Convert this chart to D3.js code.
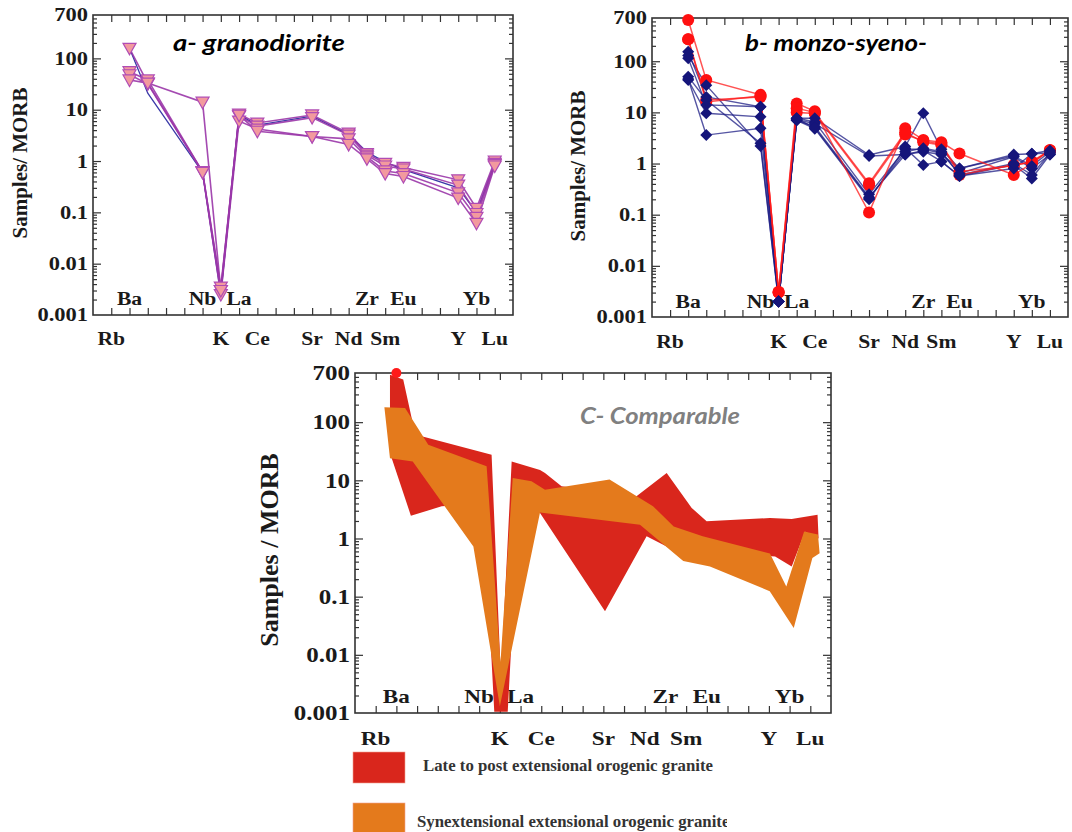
<!DOCTYPE html>
<html>
<head>
<meta charset="utf-8">
<script src="https://cdn.jsdelivr.net/npm/d3@7"></script>
<style>
body{margin:0;background:#fff;}
svg{display:block;}
.serif{font-family:"Liberation Serif","Times New Roman",serif;font-weight:bold;fill:#1a1a1a;}
.title{font-family:Lato,"Open Sans",sans-serif;font-style:italic;font-weight:bold;}
</style>
</head>
<body>
<div id="chart"></div>
<script>
// x axis: element labels and where they sit (tick index 0..23)
const elements = ["Rb","Ba","Nb","K","La","Ce","Sr","Nd","Zr","Sm","Eu","Y","Yb","Lu"];
const labelPos = [1,2,6,7,8,9,12,14,15,16,17,20,21,22];
const labelRow = [1,0,0,1,0,1,1,1,0,1,0,1,0,1];   // 0 = inside plot, 1 = under axis
const dataPos  = [2,3,6,7,8,9,12,14,15,16,17,20,21,22]; // columns of the sample points

// y axis (log, samples / MORB)
const yTickValues = [700,100,10,1,0.1,0.01,0.001];
const yTickLabels = ["700","100","10","1","0.1","0.01","0.001"];

// a- granodiorite (triangles)
const granA1 = [157,33,0.62,0.003,8.2,5.5,7.9,3.5,1.4,0.9,0.75,0.43,0.12,1.0];
const granA2 = [55,38,0.62,0.0035,7.5,4.8,7.0,3.2,1.3,0.8,0.7,0.34,0.095,0.9];
const granA3 = [48,32,0.6,0.0025,6.0,4.2,3.0,2.7,1.2,0.64,0.57,0.24,0.08,0.85];
const granA4 = [38,33,14,0.003,7.8,3.8,3.0,2.1,1.1,0.57,0.5,0.19,0.061,0.8];
const granBlue = [157,21,0.6,0.0025,8,5,7.5,3.3,1.5,0.95,0.68,0.3,0.1,0.9];

// b- monzo-syeno (red circles, navy diamonds)
const monzoRed1 = [640,43,22,0.0031,15,10.5,0.11,4.9,2.9,2.6,1.57,0.6,1.0,1.84];
const monzoRed2 = [268,17.5,20,0.003,12,10,0.41,4.1,2.6,2.3,0.7,0.9,1.1,1.8];
const monzoRed3 = [268,16,21,0.003,10,9.5,0.38,3.7,2.8,2.4,0.6,0.95,1.05,1.8];
const monzoNavy1 = [153,20,12.9,0.002,7.7,7.7,1.47,2.15,9.6,1.9,0.8,1.5,1.55,1.8];
const monzoNavy2 = [114,14,12.9,0.002,7.7,6.5,0.25,1.9,1.9,1.6,0.64,1.35,0.8,1.5];
const monzoNavy3 = [130,34,2.2,0.002,7,5.3,0.22,1.5,1.8,1.1,0.57,0.94,0.51,1.5];
const monzoNavy4 = [50,17.5,2.5,0.002,7,4.8,0.2,2.0,0.94,1.09,0.57,0.8,1.55,1.6];
const monzoNavy5 = [43,9.6,8.2,0.002,7.2,6,1.4,1.5,1.7,1.5,0.8,1.4,0.9,1.7];
const monzoNavy6 = [45,3.6,4.9,0.002,7.5,5,0.21,1.7,2.0,1.7,0.6,1.0,0.6,1.6];

// C- comparable fields: outline vertices (tick index, value)
const lateX = [1.69,2.33,2.79,3.22,6.6,7.05,7.57,8.94,9.18,9.98,13.6,15.06,16.27,16.99,20.05,21.1,22.35,22.4,21.75,21.1,20.3,17.15,15.06,14.09,12.08,8.94,7.9,7.38,6.73,6.2,4.19,2.7,1.69];
const lateY = [650,540,97,57,27.6,0.004,21,15,13.4,7.9,5.3,13.4,3.35,1.97,2.25,2.16,2.57,1.0,1.3,0.33,0.49,0.6,0.73,1.09,0.056,2.75,3,0.00105,0.00105,4,3.57,2.47,29.5];
const synX = [1.42,2.42,3.14,3.54,6.36,7.03,7.62,8.53,9.18,12.3,14.4,15.4,16.8,20.05,20.84,21.7,22.37,22.45,22.1,21.2,20.04,17.15,15.86,13.77,8.94,7.0,5.72,2.79,1.69];
const synY = [180,175,69,41,17.4,0.0075,11,9.6,6.9,10.3,3.6,1.6,1.09,0.55,0.15,1.32,1.17,0.56,0.46,0.029,0.124,0.33,0.41,1.73,2.8,0.0013,0.73,21,24];
const lateDotX = [2];
const lateDotY = [700];

const legendNames = ["Late to post extensional orogenic granite","Synextensional extensional orogenic granite"];
const legendColors = ["#d9261c","#e47a1c"];

const svg = d3.select("#chart").append("svg").attr("width",1072).attr("height",832);

//draws box, ticks and labels of one panel, returns its scales
function panel(p){
  const x = d3.scaleLinear().domain([0,23]).range([p.x0,p.x1]);
  const y = d3.scaleLog().domain([0.001,700]).range([p.y1,p.y0]);
  const g = svg.append("g");
  const minor = [];
  for(let e=-3;e<=2;e++) for(let m=2;m<=9;m++){ const v=m*Math.pow(10,e); if(v<700) minor.push(v); }
  const major = yTickValues.filter(v=>v<700 && v>0.001);
  const tidy = s=>{ s.select(".domain").remove(); s.selectAll("line").attr("stroke","#333").attr("stroke-width",1.2); };

  g.append("g").attr("transform","translate("+p.x0+",0)").call(d3.axisRight(y).tickValues(minor).tickSize(4).tickFormat("")).call(tidy);
  g.append("g").attr("transform","translate("+p.x0+",0)").call(d3.axisRight(y).tickValues(major).tickSize(8).tickFormat("")).call(tidy);
  g.append("g").attr("transform","translate("+p.x1+",0)").call(d3.axisLeft(y).tickValues(minor).tickSize(4).tickFormat("")).call(tidy);
  g.append("g").attr("transform","translate("+p.x1+",0)").call(d3.axisLeft(y).tickValues(major).tickSize(8).tickFormat("")).call(tidy);
  g.append("g").attr("transform","translate(0,"+p.y0+")").call(d3.axisBottom(x).tickValues(d3.range(1,23)).tickSize(7).tickFormat("")).call(tidy);
  g.append("g").attr("transform","translate(0,"+p.y1+")").call(d3.axisTop(x).tickValues(d3.range(1,23)).tickSize(7).tickFormat("")).call(tidy);

  g.append("rect").attr("x",p.x0).attr("y",p.y0).attr("width",p.x1-p.x0).attr("height",p.y1-p.y0)
    .attr("fill","none").attr("stroke","#333").attr("stroke-width",1.6);

  //y tick labels
  g.selectAll(".ytl").data(yTickValues).enter().append("text")
    .attr("class","serif stretch").attr("data-k",p.tickK)
    .attr("x",p.x0-5).attr("y",d=>y(d)).attr("dy","0.36em")
    .attr("text-anchor","end").style("font-size",p.tickFont+"px")
    .text((d,i)=>yTickLabels[i]);

  //element labels, two rows
  g.selectAll(".xtl").data(elements).enter().append("text")
    .attr("class","serif stretch").attr("data-k",p.labK)
    .attr("x",(d,i)=>x(labelPos[i]))
    .attr("y",(d,i)=>labelRow[i]===0 ? p.y1-p.upOff : p.y1+p.lowOff)
    .attr("text-anchor","middle").style("font-size",p.labFont+"px")
    .text(d=>d);

  //axis title
  g.append("text").attr("class","serif")
    .attr("transform","translate("+p.axX+","+p.axY+") rotate(-90)")
    .attr("text-anchor","middle").style("font-size",p.axFont+"px")
    .text(p.axText);

  //panel title
  g.append("text").attr("class","title").attr("x",p.tX).attr("y",p.tY)
    .attr("textLength",p.tW).attr("lengthAdjust","spacingAndGlyphs")
    .style("font-size",p.tFont+"px").attr("fill",p.tColor).text(p.title);
  return {x,y,g};
}

//---------- a- granodiorite ----------
const pa = panel({x0:93,x1:513,y0:15,y1:315,tickFont:18,tickK:1.25,labFont:18,labK:1.2,upOff:10,lowOff:30,
  axX:27,axY:163,axFont:21,axText:"Samples/ MORB",tX:173,tY:51,tW:172,tFont:23,tColor:"#000",title:"a-  granodiorite"});
const lineA = d3.line().x((d,i)=>pa.x(dataPos[i])).y(d=>pa.y(d));
pa.g.append("path").datum(granBlue).attr("d",lineA).attr("fill","none").attr("stroke","#3a3aa8").attr("stroke-width",1.3);
const granSet = [granA1,granA2,granA3,granA4];
pa.g.selectAll(".ga").data(granSet).enter().append("path").attr("d",lineA)
  .attr("fill","none").attr("stroke","#9a36a8").attr("stroke-width",1.6).attr("opacity",0.9);
granSet.forEach(s=>{
  pa.g.selectAll(null).data(s).enter().append("path")
    .attr("transform",(d,i)=>"translate("+pa.x(dataPos[i])+","+pa.y(d)+")")
    .attr("d","M-6.5,-5L6.5,-5L0,6.5Z")
    .attr("fill","#f29a9e").attr("stroke","#b04cb4").attr("stroke-width",1.2);
});

//---------- b- monzo-syeno ----------
const pb = panel({x0:652,x1:1068,y0:18,y1:317,tickFont:18,tickK:1.25,labFont:18,labK:1.2,upOff:9,lowOff:31,
  axX:585,axY:166,axFont:21,axText:"Samples/ MORB",tX:745,tY:51,tW:182,tFont:23,tColor:"#000",title:"b- monzo-syeno-"});
const lineB = d3.line().x((d,i)=>pb.x(dataPos[i])).y(d=>pb.y(d));
const navySet = [monzoNavy1,monzoNavy2,monzoNavy3,monzoNavy4,monzoNavy5,monzoNavy6];
const redSet = [monzoRed1,monzoRed2,monzoRed3];
pb.g.selectAll(".nl").data(navySet).enter().append("path").attr("d",lineB)
  .attr("fill","none").attr("stroke","#1c1c84").attr("stroke-width",1.4).attr("opacity",0.75);
pb.g.selectAll(".rl").data(redSet).enter().append("path").attr("d",lineB)
  .attr("fill","none").attr("stroke","#ff1a1a").attr("stroke-width",1.5).attr("opacity",0.75);
redSet.forEach(s=>{
  pb.g.selectAll(null).data(s).enter().append("circle")
    .attr("cx",(d,i)=>pb.x(dataPos[i])).attr("cy",d=>pb.y(d)).attr("r",6)
    .attr("fill","#ff1010");
});
navySet.forEach(s=>{
  pb.g.selectAll(null).data(s).enter().append("path")
    .attr("transform",(d,i)=>"translate("+pb.x(dataPos[i])+","+pb.y(d)+")")
    .attr("d","M0,-6L6,0L0,6L-6,0Z").attr("fill","#15157a");
});

//---------- C- comparable ----------
const pc = panel({x0:355,x1:831,y0:373,y1:713,tickFont:20,tickK:1.25,labFont:19,labK:1.22,upOff:10,lowOff:32,
  axX:278,axY:550,axFont:26,axText:"Samples / MORB",tX:580,tY:424,tW:160,tFont:23,tColor:"#808080",title:"C- Comparable"});
const area = d3.line().x(d=>pc.x(d[0])).y(d=>pc.y(d[1]));
pc.g.append("path").datum(lateX.map((v,i)=>[v,lateY[i]])).attr("d",d=>area(d)+"Z").attr("fill",legendColors[0]);
pc.g.selectAll(".dot").data(lateDotX).enter().append("circle")
  .attr("cx",d=>pc.x(d)).attr("cy",(d,i)=>pc.y(lateDotY[i])).attr("r",5).attr("fill","#ff1a1a");
pc.g.append("path").datum(synX.map((v,i)=>[v,synY[i]])).attr("d",d=>area(d)+"Z").attr("fill",legendColors[1]);

//legend
svg.append("clipPath").attr("id","legclip").append("rect").attr("x",340).attr("y",740).attr("width",387).attr("height",92);
const leg = svg.append("g").attr("clip-path","url(#legclip)");
leg.selectAll("rect").data(legendNames).enter().append("rect")
  .attr("x",353).attr("y",(d,i)=>752+i*51).attr("width",52).attr("height",31)
  .attr("fill",(d,i)=>legendColors[i]).attr("stroke","#f0a090").attr("stroke-width",0.6);
leg.selectAll("text").data(legendNames).enter().append("text")
  .attr("class","serif legtxt").attr("x",(d,i)=>i===0?423:417).attr("y",(d,i)=>771+i*56)
  .style("font-size","16px").style("fill","#333").text(d=>d);

//widen serif labels like the stretched original
svg.selectAll(".stretch").each(function(){
  const k = +this.getAttribute("data-k");
  const w = this.getComputedTextLength();
  d3.select(this).attr("textLength",w*k).attr("lengthAdjust","spacingAndGlyphs");
});
const legNodes = svg.selectAll(".legtxt").nodes();
const legK = 290/legNodes[0].getComputedTextLength();
legNodes.forEach(n=>{
  d3.select(n).attr("textLength",n.getComputedTextLength()*legK).attr("lengthAdjust","spacingAndGlyphs");
});
</script>
</body>
</html>
